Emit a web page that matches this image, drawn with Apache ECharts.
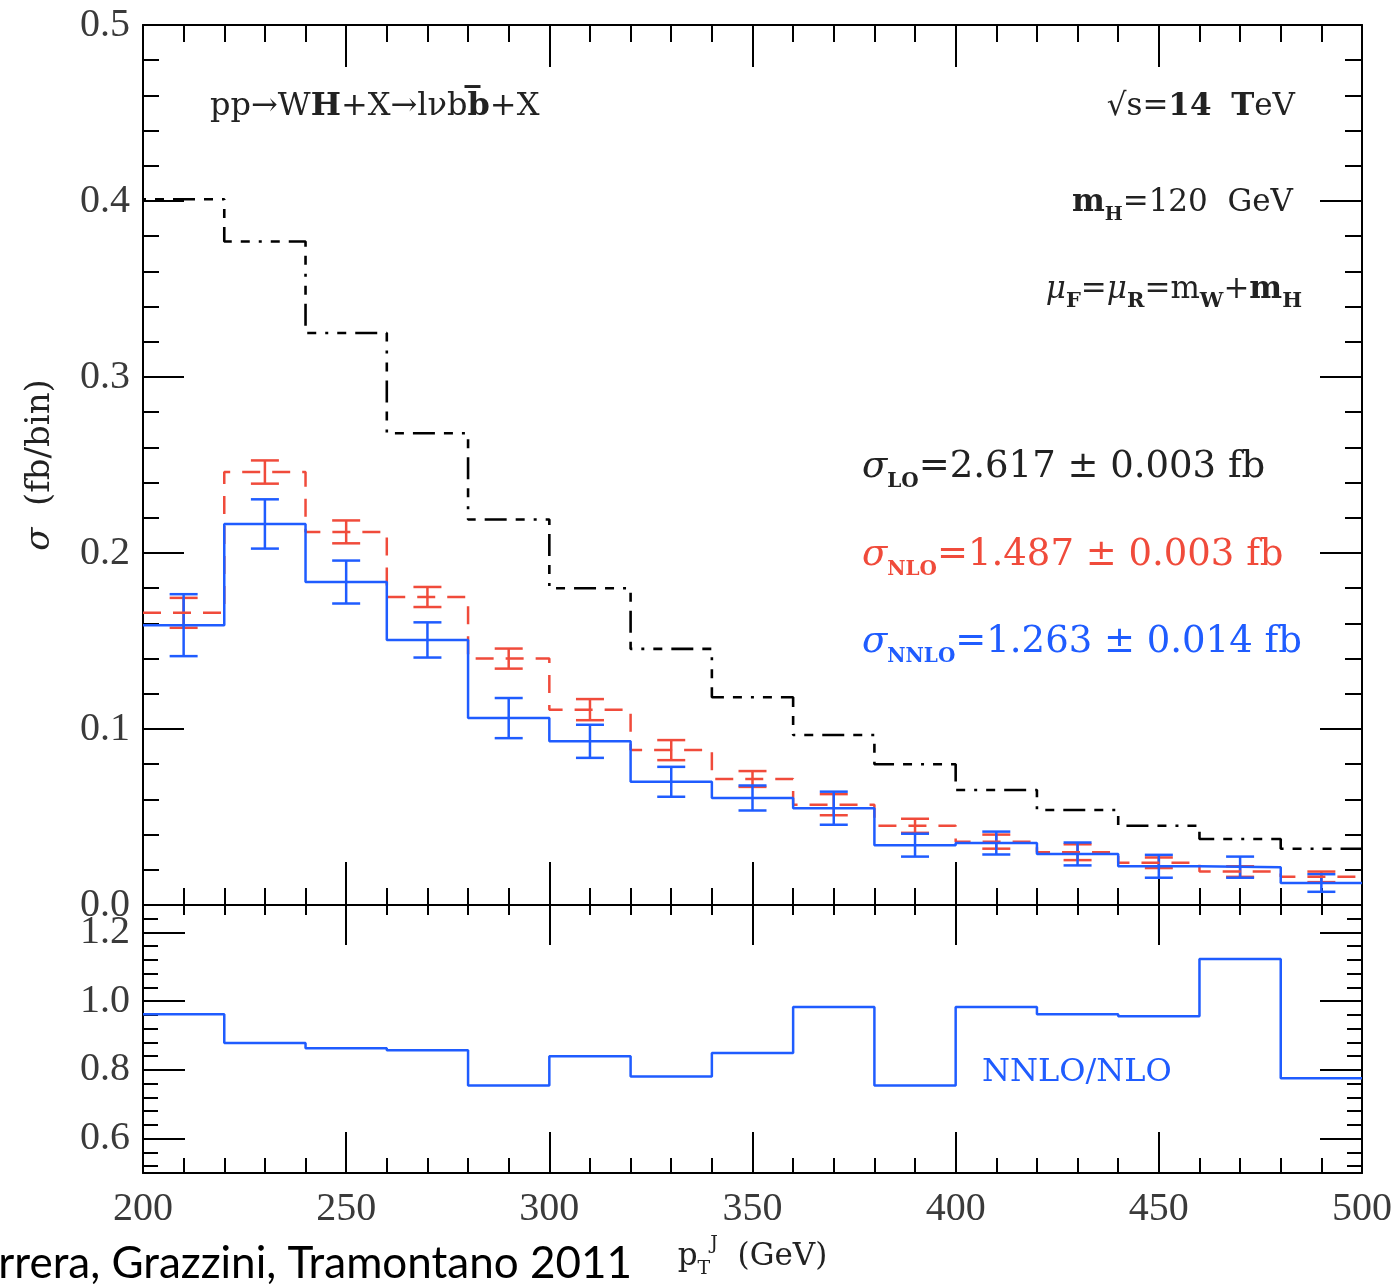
<!DOCTYPE html>
<html>
<head>
<meta charset="utf-8">
<title>WH pT^J distribution</title>
<script src="https://cdn.jsdelivr.net/npm/echarts@6.0.0/dist/echarts.min.js"></script>
<style>
  html, body { margin: 0; padding: 0; background: #fff; }
  #chart { width: 1397px; height: 1284px; }
</style>
</head>
<body>
<div id="chart"></div>
<script>
// bin edges in GeV
const edges = [200, 220, 240, 260, 280, 300, 320, 340, 360, 380, 400, 420, 440, 460, 480, 500]
// sigma per bin (fb)
const lo = [0.401, 0.377, 0.325, 0.268, 0.219, 0.180, 0.1455, 0.118, 0.0966, 0.080, 0.0653, 0.054, 0.045, 0.0375, 0.032]
const nlo = [0.166, 0.246, 0.212, 0.175, 0.140, 0.111, 0.088, 0.0716, 0.057, 0.045, 0.036, 0.030, 0.024, 0.019, 0.016]
const nloErr = [0.0085, 0.0066, 0.0065, 0.0057, 0.0057, 0.006, 0.0057, 0.0045, 0.006, 0.004, 0.004, 0.0045, 0.003, 0.003, 0.003]
const nnlo = [0.159, 0.2165, 0.1835, 0.1506, 0.1062, 0.093, 0.070, 0.0608, 0.055, 0.034, 0.0352, 0.029, 0.022, 0.0215, 0.0125]
const nnloErr = [0.0176, 0.014, 0.0122, 0.010, 0.0114, 0.0094, 0.0085, 0.0071, 0.0094, 0.0065, 0.0065, 0.0065, 0.0065, 0.006, 0.005]
// NNLO/NLO
const ratio = [0.962, 0.878, 0.863, 0.857, 0.755, 0.840, 0.781, 0.849, 0.983, 0.755, 0.983, 0.962, 0.956, 1.123, 0.776]
// lower panel ticks
const ratioMajor = [0.6, 0.8, 1.0, 1.2]
const ratioMinor = [0.52, 0.56, 0.64, 0.68, 0.72, 0.76, 0.84, 0.88, 0.92, 0.96, 1.04, 1.08, 1.12, 1.16, 1.24]

const RED = '#f04b3b'
const BLUE = '#1f5cff'
const INK = '#222'
const SERIF = 'DejaVu Serif'
const TICKFONT = 'Liberation Serif'

function steps(vals) {
  return edges.map((x, i) => [x, vals[Math.min(i, vals.length - 1)]])
}
function bars(vals, errs) {
  return vals.map((v, i) => [(edges[i] + edges[i + 1]) / 2, v, errs[i]])
}
function errRender(color) {
  return function(params, api) {
    const x = api.value(0)
    const v = api.value(1)
    const e = api.value(2)
    const top = api.coord([x, v + e])
    const bot = api.coord([x, v - e])
    const w = 14
    const style = { stroke: color, lineWidth: 2.5 }
    return {
      type: 'group',
      children: [
        { type: 'line', shape: { x1: top[0], y1: top[1], x2: bot[0], y2: bot[1] }, style: style },
        { type: 'line', shape: { x1: top[0] - w, y1: top[1], x2: top[0] + w, y2: top[1] }, style: style },
        { type: 'line', shape: { x1: bot[0] - w, y1: bot[1], x2: bot[0] + w, y2: bot[1] }, style: style }
      ]
    }
  }
}

const axisLine = { show: true, onZero: false, lineStyle: { color: '#000', width: 2 } }
function xAx(grid, pos, major, minor, labels) {
  return {
    type: 'value', gridIndex: grid, position: pos, min: 200, max: 500, interval: 50,
    axisLine: axisLine,
    axisTick: { inside: true, length: major, lineStyle: { color: '#000', width: 2 } },
    minorTick: { show: true, splitNumber: 5, length: minor, lineStyle: { color: '#000', width: 2 } },
    splitLine: { show: false },
    axisLabel: { show: labels, margin: 16, color: '#3a3a3a', fontFamily: TICKFONT, fontSize: 40 }
  }
}
function small(size, extra) {
  return Object.assign({ fontFamily: SERIF, fontSize: size, verticalAlign: 'bottom', lineHeight: size }, extra)
}

const chart = echarts.init(document.getElementById('chart'))

const option = {
  backgroundColor: '#fff',
  animation: false,
  grid: [
    { left: 143, top: 25, width: 1219, height: 880, outerBoundsMode: 'none' },
    { left: 143, top: 905, width: 1219, height: 268, outerBoundsMode: 'none' }
  ],
  xAxis: [
    xAx(0, 'bottom', 43, 17, false),
    xAx(0, 'top', 42, 17, false),
    Object.assign(xAx(1, 'bottom', 41, 15, true), {
      name: '{p|p}{sub|T}{sup|J}  (GeV)',
      nameLocation: 'middle',
      nameGap: 62,
      nameTextStyle: {
        color: INK, fontFamily: SERIF, fontSize: 31, lineHeight: 44,
        rich: {
          p: { fontFamily: SERIF, fontSize: 31, color: INK },
          sub: { fontFamily: SERIF, fontSize: 19, color: INK, verticalAlign: 'bottom', lineHeight: 19 },
          sup: { fontFamily: SERIF, fontSize: 19, color: INK, verticalAlign: 'top', lineHeight: 19 }
        }
      }
    }),
    xAx(1, 'top', 40, 10, false)
  ],
  yAxis: [
    {
      type: 'value', gridIndex: 0, position: 'left', min: 0, max: 0.5, interval: 0.1,
      axisLine: axisLine,
      axisTick: { inside: true, length: 41, lineStyle: { color: '#000', width: 2 } },
      minorTick: { show: true, splitNumber: 5, length: 16, lineStyle: { color: '#000', width: 2 } },
      splitLine: { show: false },
      axisLabel: { margin: 13, color: '#3a3a3a', fontFamily: TICKFONT, fontSize: 40, formatter: v => v.toFixed(1) },
      name: '{s|σ}  (fb/bin)',
      nameLocation: 'middle',
      nameRotate: 90,
      nameGap: 86,
      nameTextStyle: {
        color: INK, fontFamily: SERIF, fontSize: 34,
        rich: { s: { fontFamily: SERIF, fontStyle: 'italic', fontSize: 34, color: INK } }
      }
    },
    {
      type: 'value', gridIndex: 0, position: 'right', min: 0, max: 0.5, interval: 0.1,
      axisLine: axisLine,
      axisTick: { inside: true, length: 42, lineStyle: { color: '#000', width: 2 } },
      minorTick: { show: true, splitNumber: 5, length: 17, lineStyle: { color: '#000', width: 2 } },
      splitLine: { show: false },
      axisLabel: { show: false }
    },
    {
      type: 'value', gridIndex: 1, position: 'left', min: 0.5, max: 1.28,
      axisLine: axisLine,
      axisTick: { inside: true, length: 42, customValues: ratioMajor, lineStyle: { color: '#000', width: 2 } },
      splitLine: { show: false },
      axisLabel: { margin: 13, color: '#3a3a3a', fontFamily: TICKFONT, fontSize: 40, customValues: ratioMajor, formatter: v => v.toFixed(1) }
    },
    {
      type: 'value', gridIndex: 1, position: 'left', min: 0.5, max: 1.28,
      axisLine: { show: false, onZero: false },
      axisTick: { inside: true, length: 15, customValues: ratioMinor, lineStyle: { color: '#000', width: 2 } },
      splitLine: { show: false },
      axisLabel: { show: false }
    },
    {
      type: 'value', gridIndex: 1, position: 'right', min: 0.5, max: 1.28,
      axisLine: axisLine,
      axisTick: { inside: true, length: 42, customValues: ratioMajor, lineStyle: { color: '#000', width: 2 } },
      splitLine: { show: false },
      axisLabel: { show: false }
    },
    {
      type: 'value', gridIndex: 1, position: 'right', min: 0.5, max: 1.28,
      axisLine: { show: false, onZero: false },
      axisTick: { inside: true, length: 15, customValues: ratioMinor, lineStyle: { color: '#000', width: 2 } },
      splitLine: { show: false },
      axisLabel: { show: false }
    }
  ],
  series: [
    {
      name: 'LO', type: 'line', xAxisIndex: 0, yAxisIndex: 0, step: 'end',
      data: steps(lo), symbol: 'none',
      lineStyle: { color: '#000', width: 2.6, type: [3, 9, 9, 9, 22, 9, 9, 9] }
    },
    {
      name: 'NLO', type: 'line', xAxisIndex: 0, yAxisIndex: 0, step: 'end',
      data: steps(nlo), symbol: 'none',
      lineStyle: { color: RED, width: 2.5, type: [18, 12] }
    },
    {
      name: 'NLO err', type: 'custom', xAxisIndex: 0, yAxisIndex: 0,
      data: bars(nlo, nloErr), renderItem: errRender(RED)
    },
    {
      name: 'NNLO', type: 'line', xAxisIndex: 0, yAxisIndex: 0, step: 'end',
      data: steps(nnlo), symbol: 'none',
      lineStyle: { color: BLUE, width: 2.5 }
    },
    {
      name: 'NNLO err', type: 'custom', xAxisIndex: 0, yAxisIndex: 0,
      data: bars(nnlo, nnloErr), renderItem: errRender(BLUE)
    },
    {
      name: 'NNLO/NLO', type: 'line', xAxisIndex: 2, yAxisIndex: 2, step: 'end',
      data: steps(ratio), symbol: 'none',
      lineStyle: { color: BLUE, width: 2.5 }
    }
  ],
  graphic: [
    {
      type: 'text', x: 210, y: 107,
      style: {
        text: 'pp→W{b|H}+X→lνb{b|b\u0305}+X',
        font: '32px "DejaVu Serif"', fill: INK, align: 'left', verticalAlign: 'middle',
        rich: { b: { fontFamily: SERIF, fontSize: 32, fontWeight: 'bold', fill: INK } }
      }
    },
    {
      type: 'text', x: 1295, y: 107,
      style: {
        text: '√s={b|14}  {b|T}eV',
        font: '31px "DejaVu Serif"', fill: INK, align: 'right', verticalAlign: 'middle',
        rich: { b: { fontFamily: SERIF, fontSize: 31, fontWeight: 'bold', fill: INK } }
      }
    },
    {
      type: 'text', x: 1293, y: 203,
      style: {
        text: '{b|m}{sb|H}=120  GeV',
        font: '31px "DejaVu Serif"', fill: INK, align: 'right', verticalAlign: 'middle', lineHeight: 44,
        rich: {
          b: { fontFamily: SERIF, fontSize: 31, fontWeight: 'bold', fill: INK, lineHeight: 44 },
          sb: small(19, { fontWeight: 'bold', fill: INK })
        }
      }
    },
    {
      type: 'text', x: 1302, y: 290,
      style: {
        text: '{i|μ}{s|F}={i|μ}{s|R}=m{s|W}+{b|m}{sb|H}',
        font: '31px "DejaVu Serif"', fill: INK, align: 'right', verticalAlign: 'middle', lineHeight: 44,
        rich: {
          i: { fontFamily: SERIF, fontSize: 31, fontStyle: 'italic', fill: INK, lineHeight: 44 },
          b: { fontFamily: SERIF, fontSize: 31, fontWeight: 'bold', fill: INK, lineHeight: 44 },
          s: small(21, { fontWeight: 'bold', fill: INK }),
          sb: small(21, { fontWeight: 'bold', fill: INK })
        }
      }
    },
    {
      type: 'text', x: 862, y: 467,
      style: {
        text: '{i|σ}{s|LO}=2.617 ± 0.003 fb',
        font: '37px "DejaVu Serif"', fill: INK, align: 'left', verticalAlign: 'middle', lineHeight: 50,
        rich: {
          i: { fontFamily: SERIF, fontSize: 37, fontStyle: 'italic', fill: INK, lineHeight: 50 },
          s: small(20, { fontWeight: 'bold', fill: INK })
        }
      }
    },
    {
      type: 'text', x: 862, y: 555,
      style: {
        text: '{i|σ}{s|NLO}=1.487 ± 0.003 fb',
        font: '37px "DejaVu Serif"', fill: RED, align: 'left', verticalAlign: 'middle', lineHeight: 50,
        rich: {
          i: { fontFamily: SERIF, fontSize: 37, fontStyle: 'italic', fill: RED, lineHeight: 50 },
          s: small(20, { fontWeight: 'bold', fill: RED })
        }
      }
    },
    {
      type: 'text', x: 862, y: 642,
      style: {
        text: '{i|σ}{s|NNLO}=1.263 ± 0.014 fb',
        font: '37px "DejaVu Serif"', fill: BLUE, align: 'left', verticalAlign: 'middle', lineHeight: 50,
        rich: {
          i: { fontFamily: SERIF, fontSize: 37, fontStyle: 'italic', fill: BLUE, lineHeight: 50 },
          s: small(20, { fontWeight: 'bold', fill: BLUE })
        }
      }
    },
    {
      type: 'text', x: 982, y: 1073,
      style: {
        text: 'NNLO/NLO',
        font: '32px "DejaVu Serif"', fill: BLUE, align: 'left', verticalAlign: 'middle'
      }
    },
    {
      type: 'text', x: 632, y: 1264,
      style: {
        text: 'Ferrera, Grazzini, Tramontano 2011',
        font: '44px Lato', fill: '#000', align: 'right', verticalAlign: 'middle'
      }
    }
  ]
}

chart.setOption(option)
window.addEventListener('resize', () => {
  chart.resize()
})
</script>
</body>
</html>
